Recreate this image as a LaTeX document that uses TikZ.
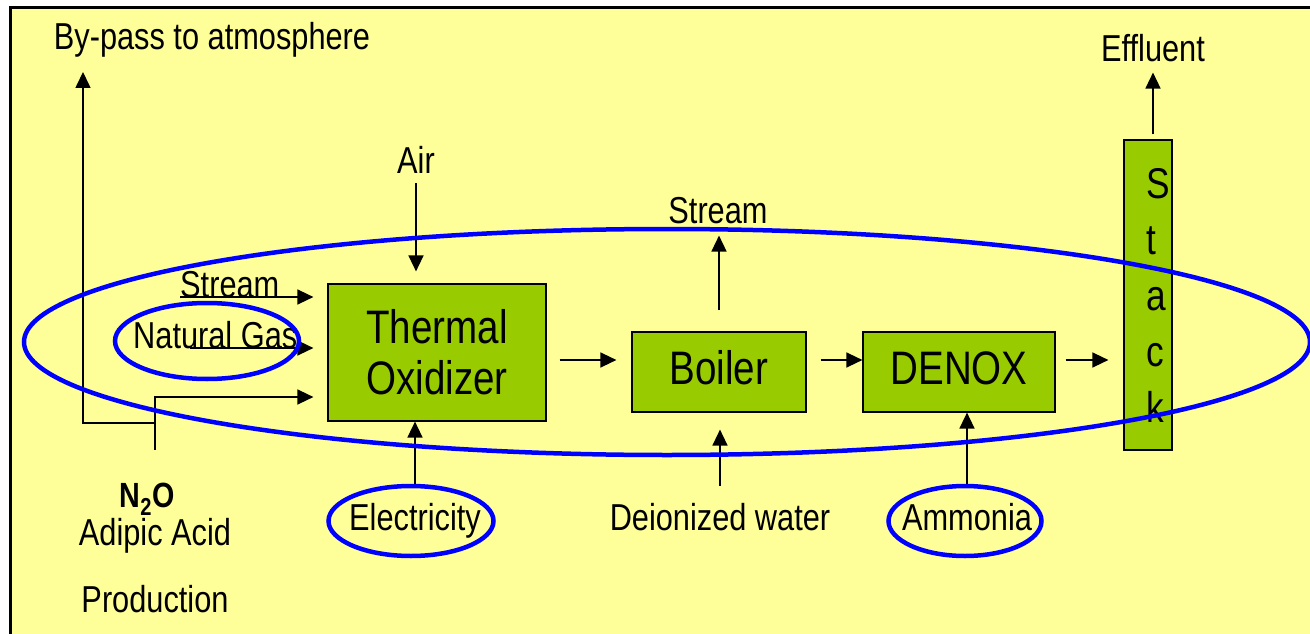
\documentclass[tikz,border=0pt]{standalone}
\usepackage{fontspec}
\setmainfont{Liberation Sans}[FakeStretch=0.82]
\usetikzlibrary{arrows.meta,shapes.geometric}

\definecolor{padyellow}{HTML}{FFFF99}
\definecolor{unitgreen}{HTML}{99CC00}
\definecolor{ringblue}{HTML}{0000FF}

\begin{document}
\begin{tikzpicture}[
  x=1pt,y=-1pt,
  lbl/.style={font=\fontsize{37.5}{41}\selectfont,inner sep=0pt},
  unit/.style={draw,line width=1.2pt,fill=unitgreen,font=\fontsize{47}{51}\selectfont,align=center},
  ring/.style={draw=ringblue,line width=4.5pt,ellipse,inner sep=0pt},
  arrow/.style={-{Triangle[length=16pt,width=15pt]},line width=1.5pt}
]
\useasboundingbox (0,0) rectangle (1310,634);
\fill[white] (0,0) rectangle (1310,634);
\fill[padyellow] (10,7) rectangle (1310,634);
\draw[line width=2.5pt] (10.5,634) -- (10.5,7.5) -- (1310,7.5);

% process units
\node[unit,minimum width=218,minimum height=137] (thermal) at (437,352.5) {Thermal\\Oxidizer};
\node[unit,minimum width=174,minimum height=80,text height=34pt,text depth=10pt] (boiler) at (719,372) {Boiler};
\node[unit,minimum width=192,minimum height=80,text height=34pt,text depth=10pt] (denox) at (959,372) {DENOX};
\node[unit,minimum width=48,minimum height=310] (stack) at (1148,295) {};
\node[font=\fontsize{43}{56}\selectfont,align=left,inner sep=0pt,anchor=west] (stackname) at (1146,295) {S\\t\\a\\c\\k};

% stream labels
\node[lbl,anchor=base] (bypass) at (212,50) {By-pass to atmosphere};
\node[lbl,anchor=base] (effluent) at (1153,62) {Effluent};
\node[lbl,anchor=base] (air) at (416,173) {Air};
\node[lbl,anchor=base] (steamout) at (718,223) {Stream};
\node[lbl,anchor=base west] (steamin) at (180,297) {Stream};
\node[lbl,anchor=base west] (natgas) at (133,348) {Natural Gas};
\node[lbl,anchor=base] (water) at (720,530) {Deionized water};
\node[lbl,anchor=base] (electricity) at (415,530) {Electricity};
\node[lbl,anchor=base] (ammonia) at (967,530) {Ammonia};
\node[lbl,anchor=base,font=\bfseries\fontsize{35}{38}\selectfont] (nitrous) at (147,507) {N\textsubscript{2}O};
\node[lbl,anchor=base] (adipic) at (155,545) {Adipic Acid};
\node[lbl,anchor=base] (production) at (155,612) {Production};

% main flow
\coordinate (flow) at (0,360);
\draw[arrow,shorten <=13pt,shorten >=15pt] (thermal.east |- flow) -- (boiler.west |- flow);
\draw[arrow,shorten <=14pt] (boiler.east |- flow) -- (denox.west |- flow);
\draw[arrow,shorten <=10pt,shorten >=15pt] (denox.east |- flow) -- (stack.west |- flow);
\draw[arrow,shorten <=5pt,shorten >=10pt] (effluent.south |- stack.north) -- (effluent.south);
\draw[arrow,shorten <=21pt,shorten >=12pt] (boiler.north) -- (boiler.north |- steamout.south);

% feeds
\draw[arrow,shorten <=10pt,shorten >=12pt] (air.south) -- (air.south |- thermal.north);
\draw[arrow,shorten >=14pt] (steamin.base west) -- (steamin.base west -| thermal.west);
\coordinate (gasin) at (190,348);
\draw[arrow,shorten >=14pt] (gasin) -- (gasin -| thermal.west);
\coordinate (feed) at (155,450);
\coordinate (feedturn) at (155,397);
\coordinate (tee) at (155,423);
\coordinate (bypassturn) at (83,423);
\draw[arrow,shorten >=14pt] (feed) -- (feedturn) -- (feedturn -| thermal.west);
\draw[arrow,shorten >=14pt] (tee) -- (bypassturn) -- (bypassturn |- bypass.south);
\draw[arrow,shorten >=17pt] ([yshift=17pt]water.north) -- (water.north |- boiler.south);

% utilities circled in blue
\node[ring,minimum width=165,minimum height=70] (elecring) at (411,521) {};
\node[ring,minimum width=153,minimum height=70] (ammring) at (965,521) {};
\draw[arrow] (electricity.north |- elecring.north) -- (electricity.north |- thermal.south);
\draw[arrow] (ammonia.north |- ammring.north) -- (ammonia.north |- denox.south);
\node[ring,minimum width=184,minimum height=76] (natring) at (207,341) {};
\node[ring,minimum width=1286,minimum height=226] (system) at (667,342) {};
\end{tikzpicture}
\end{document}
